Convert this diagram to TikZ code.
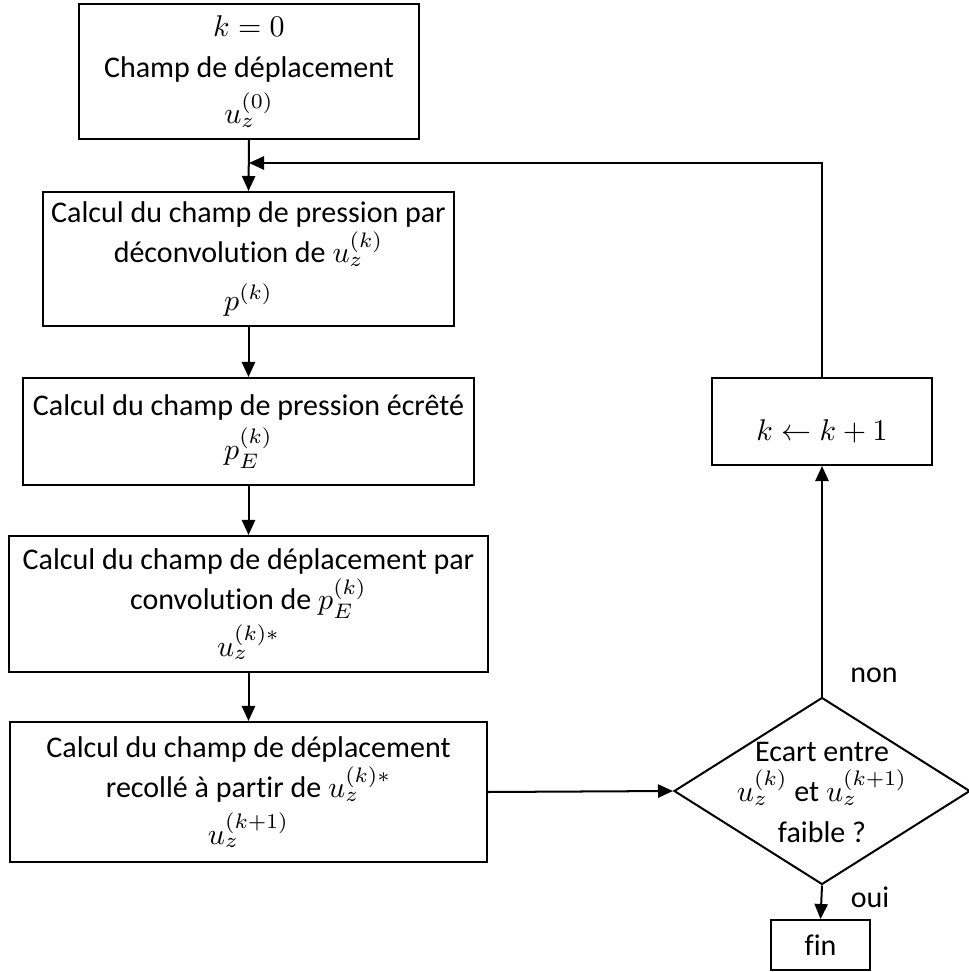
\documentclass[tikz,border=0pt]{standalone}
\usepackage{fontspec}
\setmainfont{Carlito}[Ligatures={NoCommon,NoContextual}]
\usetikzlibrary{arrows.meta,shapes.geometric}
\begin{document}
\begin{tikzpicture}[x=0.33333pt,y=-0.33333pt,
  font=\fontsize{10}{13.5}\selectfont,
  box/.style={draw, line width=0.67pt, inner sep=0pt, align=center},
  arr/.style={-{Triangle[width=4.4pt,length=5pt]}, line width=0.67pt},
  lbl/.style={inner sep=0pt}]
\useasboundingbox (0,0) rectangle (968,972);

\node[box, minimum width=113.33pt, minimum height=45pt] (b1) at (249,71.5)
  {$k=0$\\Champ de déplacement\\[2pt]$u_z^{(0)}$};
\node[box, minimum width=137pt, minimum height=44.67pt] (b2) at (248.5,259)
  {Calcul du champ de pression par\\déconvolution de $u_z^{(k)}$\\[2.5pt]$p^{(k)}$};
\node[box, minimum width=150.33pt, minimum height=35.67pt] (b3) at (248.5,431.5)
  {Calcul du champ de pression écrêté\\[1pt]$p_E^{(k)}$};
\node[box, minimum width=159.67pt, minimum height=45.33pt] (b4) at (248.5,604)
  {Calcul du champ de déplacement par\\convolution de $p_E^{(k)}$\\[2pt]$u_z^{(k)*}$};
\node[box, minimum width=159pt, minimum height=46.67pt] (b5) at (248.5,792)
  {Calcul du champ de déplacement\\recollé à partir de $u_z^{(k)*}$\\[2pt]$u_z^{(k+1)}$};

\node[diamond, draw, line width=0.67pt, minimum width=98.67pt, minimum height=62.33pt, inner sep=0pt] (dia) at (822,791) {};
\node[align=center, inner sep=0pt] (diat) at (822,792)
  {Ecart entre\\$u_z^{(k)}$ et $u_z^{(k+1)}$\\faible ?};

\node[box, minimum width=73.33pt, minimum height=29pt] (kb) at (822,421.5) {};
\node[lbl] (kbt) at (822,431) {$k \leftarrow k+1$};
\node[box, minimum width=33pt, minimum height=16.67pt] (fin) at (820.5,945) {fin};

\coordinate (join) at (249,163);

\draw[arr] (b1.south) -- (b2.north);
\draw[arr] (b2.south) -- (b3.north);
\draw[arr] (b3.south) -- (b4.north);
\draw[arr] (b4.south) -- (b5.north);
\draw[arr] (b5.east) -- (dia.west);
\draw[arr] (dia.north) -- (kb.south);
\draw[arr] (kb.north) |- (join);
\draw[arr] (dia.south) -- (fin.north);

\node[lbl] (non) at (874,675) {non};
\node[lbl] (oui) at (870,897) {oui};
\end{tikzpicture}
\end{document}
